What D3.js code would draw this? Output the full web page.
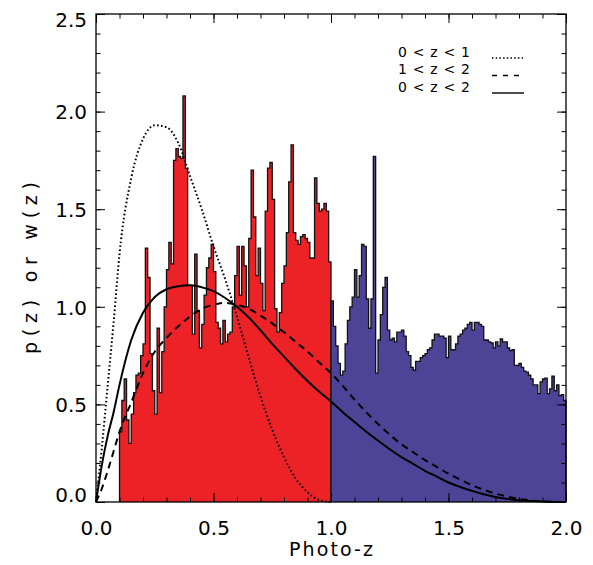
<!DOCTYPE html>
<html>
<head>
<meta charset="utf-8">
<script src="https://cdn.jsdelivr.net/npm/d3@7"></script>
<style>
body { margin: 0; background: #fff; }
text { font-family: "DejaVu Sans", sans-serif; fill: #000; }
</style>
</head>
<body>
<svg id="chart" width="593" height="565"></svg>
<script>
// histogram bins, 0.01 wide
var binWidth = 0.01;
var redStart = 0.10;
var redCounts = [
    0.36, 0.52, 0.63, 0.42, 0.30, 0.45, 0.56, 0.65, 0.66, 0.75,
    0.81, 1.30, 1.15, 0.76, 0.57, 0.45, 0.89, 0.56, 0.77, 1.00,
    1.19, 1.33, 1.22, 1.75, 1.81, 1.77, 1.76, 2.08, 1.71, 1.11,
    1.11, 0.86, 1.27, 0.98, 0.79, 0.91, 1.06, 1.20, 1.25, 1.32,
    1.18, 0.92, 0.89, 0.81, 0.93, 0.82, 0.86, 0.87, 1.00, 1.16,
    1.31, 1.06, 1.31, 1.21, 1.00, 1.35, 1.70, 1.46, 1.16, 1.30,
    1.12, 0.98, 1.49, 1.71, 1.74, 1.55, 0.99, 0.87, 0.97, 1.12,
    1.21, 1.38, 1.64, 1.83, 1.38, 1.34, 1.32, 1.36, 1.37, 1.35,
    1.33, 1.25, 1.25, 1.66, 1.53, 1.49, 1.50, 1.53, 1.49, 1.23
];
var blueStart = 1.00;
var blueCounts = [
    1.03, 0.90, 0.80, 0.71, 0.65, 0.67, 0.81, 0.93, 1.00, 1.05,
    1.19, 1.05, 1.16, 1.32, 1.31, 1.04, 0.89, 1.04, 1.77, 0.66,
    0.83, 0.96, 1.10, 1.15, 0.88, 0.83, 0.84, 0.82, 0.87, 0.87,
    0.88, 0.85, 0.77, 0.75, 0.69, 0.675, 0.72, 0.72, 0.74, 0.75,
    0.76, 0.78, 0.79, 0.83, 0.86, 0.86, 0.85, 0.85, 0.84, 0.74,
    0.85, 0.78, 0.78, 0.81, 0.85, 0.86, 0.88, 0.89, 0.91, 0.92,
    0.88, 0.92, 0.92, 0.91, 0.90, 0.83, 0.83, 0.82, 0.815, 0.79,
    0.82, 0.80, 0.835, 0.82, 0.82, 0.79, 0.775, 0.78, 0.70, 0.70,
    0.71, 0.69, 0.67, 0.665, 0.65, 0.63, 0.60, 0.60, 0.555, 0.615,
    0.63, 0.635, 0.555, 0.58, 0.645, 0.57, 0.60, 0.545, 0.55, 0.52
];

var curveZ = [0, 0.025, 0.05, 0.075, 0.1, 0.15, 0.2, 0.25, 0.3, 0.35, 0.4,
    0.45, 0.5, 0.55, 0.6, 0.65, 0.7, 0.75, 0.8, 0.85, 0.9, 0.95, 1.0,
    1.05, 1.1, 1.15, 1.2, 1.25, 1.3, 1.35, 1.4, 1.45, 1.5, 1.55, 1.6,
    1.65, 1.7, 1.75, 1.8, 1.85, 1.9, 1.95, 2.0];
var dottedZ = [0, 0.025, 0.05, 0.075, 0.1, 0.15, 0.2, 0.25, 0.3, 0.35, 0.4,
    0.45, 0.5, 0.55, 0.6, 0.65, 0.7, 0.75, 0.8, 0.85, 0.9, 0.95, 1.0];
var dottedVals = [0, 0.28, 0.60, 0.92, 1.27, 1.66, 1.86, 1.93, 1.92, 1.84, 1.67,
    1.50, 1.31, 1.14, 0.95, 0.74, 0.54, 0.37, 0.23, 0.12, 0.05, 0.01, 0];
var dashedVals = [0, 0.07, 0.16, 0.26, 0.36, 0.51, 0.66, 0.77, 0.84, 0.90, 0.95,
    0.99, 1.01, 1.02, 1.01, 0.99, 0.955, 0.915, 0.87, 0.82, 0.77, 0.715, 0.66,
    0.595, 0.525, 0.46, 0.40, 0.345, 0.295, 0.255, 0.215, 0.18, 0.145, 0.115, 0.086,
    0.063, 0.043, 0.028, 0.016, 0.008, 0.003, 0.001, 0];
var solidVals = [0, 0.19, 0.34, 0.46, 0.60, 0.83, 0.97, 1.05, 1.09, 1.105, 1.11,
    1.10, 1.08, 1.045, 1.00, 0.945, 0.88, 0.81, 0.745, 0.68, 0.62, 0.565, 0.515,
    0.46, 0.41, 0.36, 0.315, 0.27, 0.23, 0.195, 0.16, 0.13, 0.10, 0.077, 0.057,
    0.04, 0.026, 0.016, 0.009, 0.005, 0.002, 0.0005, 0];

var xTicks = [0, 0.5, 1.0, 1.5, 2.0];
var yTicks = [0, 0.5, 1.0, 1.5, 2.0, 2.5];
var legendLabels = ["0<z<1", "1<z<2", "0<z<2"];
var legendDash = ["1.5,2.2", "5,6", null];

var x = d3.scaleLinear().domain([0, 2]).range([96, 566]);
var y = d3.scaleLinear().domain([0, 2.5]).range([502, 14]);

var svg = d3.select("#chart");

function histPath(start, counts, close) {
    var p = d3.path();
    p.moveTo(x(start), y(0));
    counts.forEach(function (v, i) {
        var z0 = start + i * binWidth;
        p.lineTo(x(z0), y(v));
        p.lineTo(x(z0 + binWidth), y(v));
    });
    p.lineTo(x(start + counts.length * binWidth), y(0));
    if (close) p.closePath();
    return p.toString();
}

function drawHist(start, counts, color) {
    svg.append("path")
        .attr("d", histPath(start, counts, true))
        .attr("fill", color)
        .attr("stroke", "none");
    svg.append("path")
        .attr("d", histPath(start, counts, false))
        .attr("fill", "none")
        .attr("stroke", "#111")
        .attr("stroke-width", 1.3);
}

drawHist(redStart, redCounts, "#ec2227");
drawHist(blueStart, blueCounts, "#4d4497");

var line = d3.line()
    .x(function (d) { return x(d[0]); })
    .y(function (d) { return y(d[1]); })
    .curve(d3.curveMonotoneX);

svg.append("path")
    .attr("d", line(d3.zip(dottedZ, dottedVals)))
    .attr("fill", "none")
    .attr("stroke", "#000")
    .attr("stroke-width", 2)
    .attr("stroke-dasharray", "1.6,2.4");

svg.append("path")
    .attr("d", line(d3.zip(curveZ, dashedVals)))
    .attr("fill", "none")
    .attr("stroke", "#000")
    .attr("stroke-width", 2)
    .attr("stroke-dasharray", "7,5");

svg.append("path")
    .attr("d", line(d3.zip(curveZ, solidVals)))
    .attr("fill", "none")
    .attr("stroke", "#000")
    .attr("stroke-width", 2);

// axes: ticks inward on all four sides
var xMinor = d3.range(0, 2.001, 0.1);
var yMinor = d3.range(0, 2.501, 0.1);
var majorLen = 9, minorLen = 4.5;

function tickAxis(axis, transform) {
    var g = svg.append("g")
        .attr("transform", transform)
        .call(axis.tickSizeOuter(0).tickFormat(""));
    g.select(".domain").remove();
    g.selectAll("line").attr("stroke", "#000").attr("stroke-width", 1);
    return g;
}

tickAxis(d3.axisBottom(x).tickValues(xMinor).tickSizeInner(-minorLen), "translate(0,502)");
tickAxis(d3.axisBottom(x).tickValues(xTicks).tickSizeInner(-majorLen), "translate(0,502)");
tickAxis(d3.axisTop(x).tickValues(xMinor).tickSizeInner(-minorLen), "translate(0,14)");
tickAxis(d3.axisTop(x).tickValues(xTicks).tickSizeInner(-majorLen), "translate(0,14)");
tickAxis(d3.axisLeft(y).tickValues(yMinor).tickSizeInner(-minorLen), "translate(96,0)");
tickAxis(d3.axisLeft(y).tickValues(yTicks).tickSizeInner(-majorLen), "translate(96,0)");
tickAxis(d3.axisRight(y).tickValues(yMinor).tickSizeInner(-minorLen), "translate(566,0)");
tickAxis(d3.axisRight(y).tickValues(yTicks).tickSizeInner(-majorLen), "translate(566,0)");

svg.append("rect")
    .attr("x", x(0)).attr("y", y(2.5))
    .attr("width", x(2) - x(0)).attr("height", y(0) - y(2.5))
    .attr("fill", "none").attr("stroke", "#000").attr("stroke-width", 1.3);

// tick labels
var xLab = svg.append("g")
    .attr("transform", "translate(0,502)")
    .call(d3.axisBottom(x).tickValues(xTicks).tickSize(0).tickPadding(0).tickFormat(d3.format(".1f")));
xLab.select(".domain").remove();
xLab.selectAll("text")
    .attr("dy", null).attr("y", 33)
    .attr("font-size", 20).attr("font-family", "DejaVu Sans");

var yLab = svg.append("g")
    .attr("transform", "translate(96,0)")
    .call(d3.axisLeft(y).tickValues(yTicks).tickSize(0).tickPadding(9).tickFormat(d3.format(".1f")));
yLab.select(".domain").remove();
yLab.selectAll(".tick").each(function (d) {
    // keep end labels inside the frame, as the original plot does
    var shift = 0;
    if (d === 0) shift = -8;
    if (d === 2.5) shift = 5;
    d3.select(this).select("text")
        .attr("dy", "0.36em")
        .attr("y", shift)
        .attr("font-size", 20).attr("font-family", "DejaVu Sans");
});

// axis titles
svg.append("text")
    .attr("x", 331).attr("y", 556)
    .attr("text-anchor", "middle")
    .attr("font-size", 19)
    .attr("textLength", 84).attr("lengthAdjust", "spacing")
    .text("Photo-z");

svg.append("text")
    .attr("transform", "translate(37,268) rotate(-90)")
    .attr("text-anchor", "middle")
    .attr("font-size", 19)
    .attr("textLength", 172).attr("lengthAdjust", "spacing")
    .text("p(z) or w(z)");

// legend
var legend = svg.append("g").attr("class", "legend");
legendLabels.forEach(function (label, i) {
    var by = 56.5 + i * 17.5;
    legend.append("text")
        .attr("x", 398).attr("y", by)
        .attr("font-size", 14)
        .attr("textLength", 72).attr("lengthAdjust", "spacing")
        .text(label);
    var l = legend.append("line")
        .attr("x1", 492).attr("x2", 524)
        .attr("y1", by + 1.5).attr("y2", by + 1.5)
        .attr("stroke", "#000")
        .attr("stroke-width", 1.4);
    if (legendDash[i]) l.attr("stroke-dasharray", legendDash[i]);
});
</script>
</body>
</html>
